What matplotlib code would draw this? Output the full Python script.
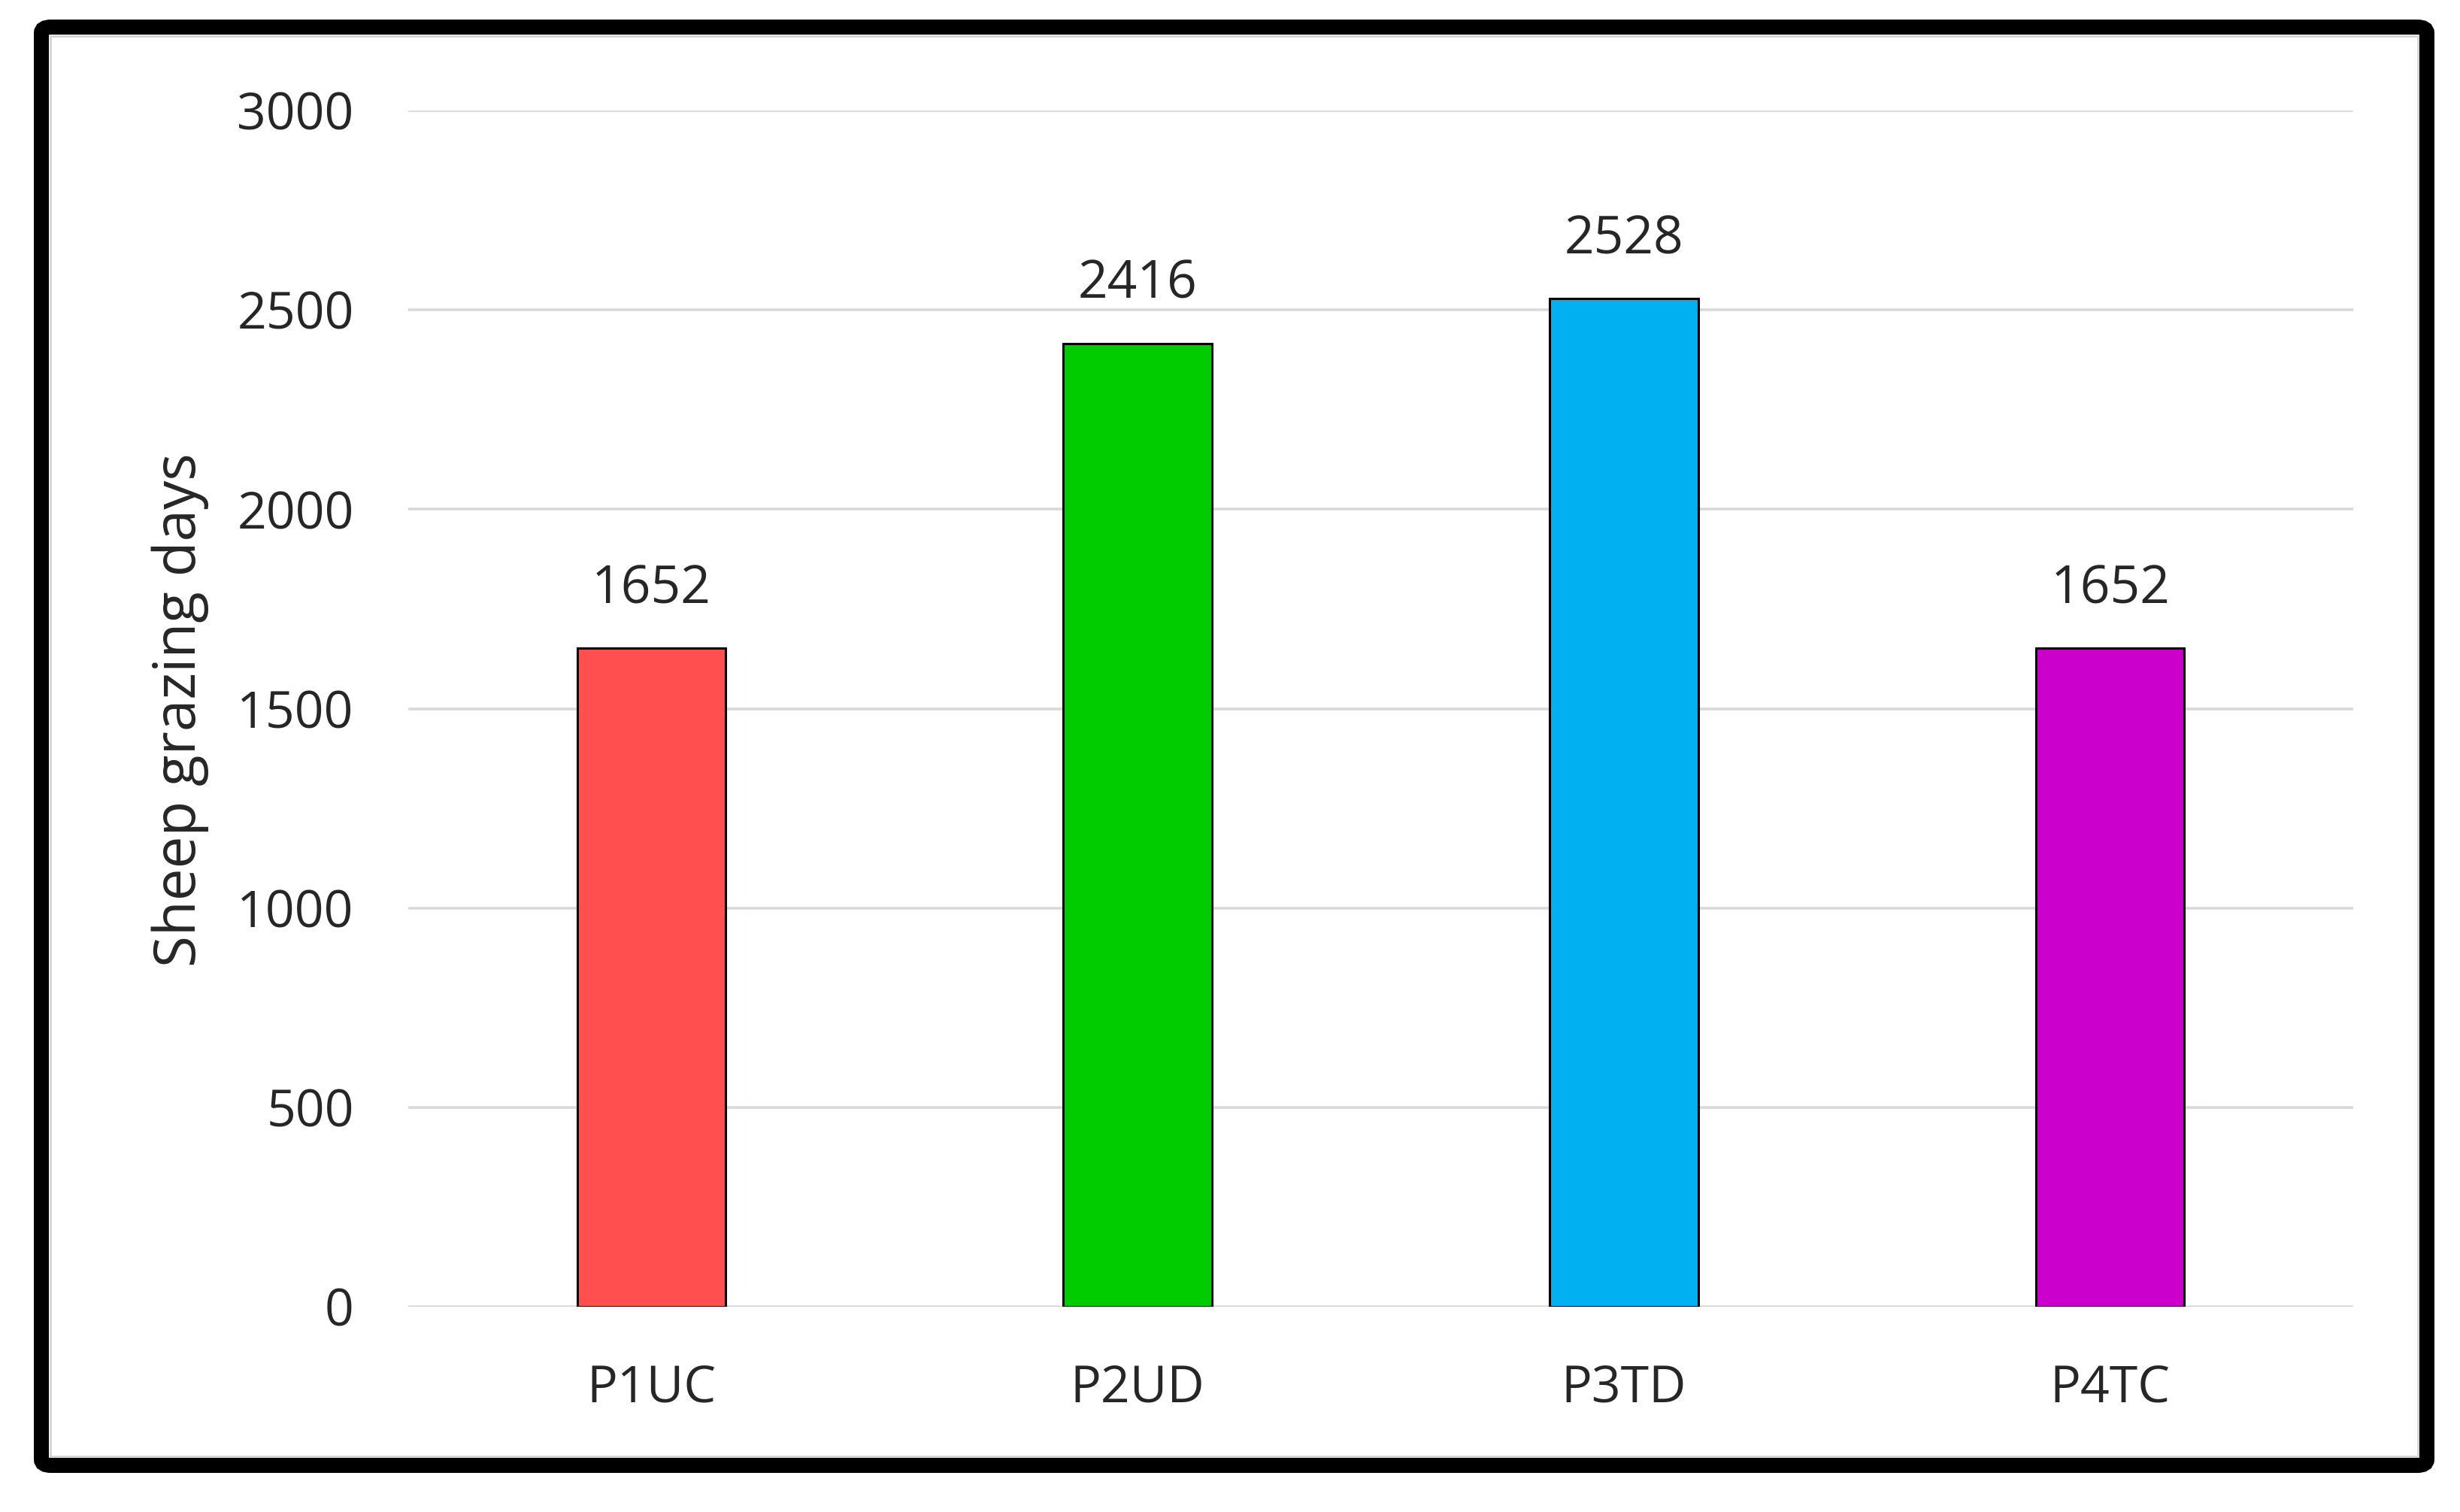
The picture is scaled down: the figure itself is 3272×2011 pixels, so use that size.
import matplotlib
matplotlib.use('Agg')
import matplotlib.pyplot as plt
from matplotlib.patches import FancyBboxPatch, Rectangle

# data
categories = ['P1UC', 'P2UD', 'P3TD', 'P4TC']
grazing_days = [1652, 2416, 2528, 1652]
bar_colors = ['#FF4F4F', '#00CC00', '#00B0F0', '#CC00CC']
y_ticks = [0, 500, 1000, 1500, 2000, 2500, 3000]

plt.rcParams['font.family'] = ['Open Sans', 'DejaVu Sans']
text_color = '#262626'

W, H = 3272, 2011
fig = plt.figure(figsize=(W / 200, H / 200), dpi=200)
ax = fig.add_axes([543 / W, 1 - 1738 / H, (3130 - 543) / W, (1738 - 147) / H])

x = list(range(len(categories)))
ax.bar(x, grazing_days, width=0.305, color=bar_colors,
       edgecolor='black', linewidth=1.1, zorder=3)

# value labels above each bar
for xi, v in zip(x, grazing_days):
    ax.annotate(str(v), xy=(xi, v), xytext=(0, 28), textcoords='offset points',
                ha='center', va='center', fontsize=25, color=text_color)

ax.set_xlim(-0.5, len(categories) - 0.5)
ax.set_ylim(0, 3000)
ax.set_yticks(y_ticks)
ax.set_xticks(x)
ax.set_xticklabels(categories)
ax.tick_params(axis='both', length=0, labelsize=24.5, labelcolor=text_color)
ax.tick_params(axis='y', pad=26)
ax.tick_params(axis='x', pad=27)

ax.grid(axis='y', color='#D9D9D9', linewidth=1.3, zorder=0)
ax.set_axisbelow(True)
for s in ax.spines.values():
    s.set_visible(False)

fig.text(240 / W, 1 - 944 / H, 'Sheep grazing days', rotation=90,
         ha='center', va='center', fontsize=27.5, color=text_color)

# faint grey edge just inside the frame
fig.patches.append(Rectangle((67 / W, 1 - 1937 / H), (3216 - 67) / W, (1937 - 48) / H,
                             transform=fig.transFigure, fill=False,
                             edgecolor='#D4D4D4', linewidth=1.0))

# thick black frame around the whole chart
frame = FancyBboxPatch((55 / W, 1 - 1949 / H), (3228 - 55) / W, (1949 - 36) / H,
                       boxstyle='round,pad=0,rounding_size=0.004',
                       transform=fig.transFigure, fill=False,
                       edgecolor='black', linewidth=7.2)
fig.patches.append(frame)

fig.savefig('out.png', dpi=200)
